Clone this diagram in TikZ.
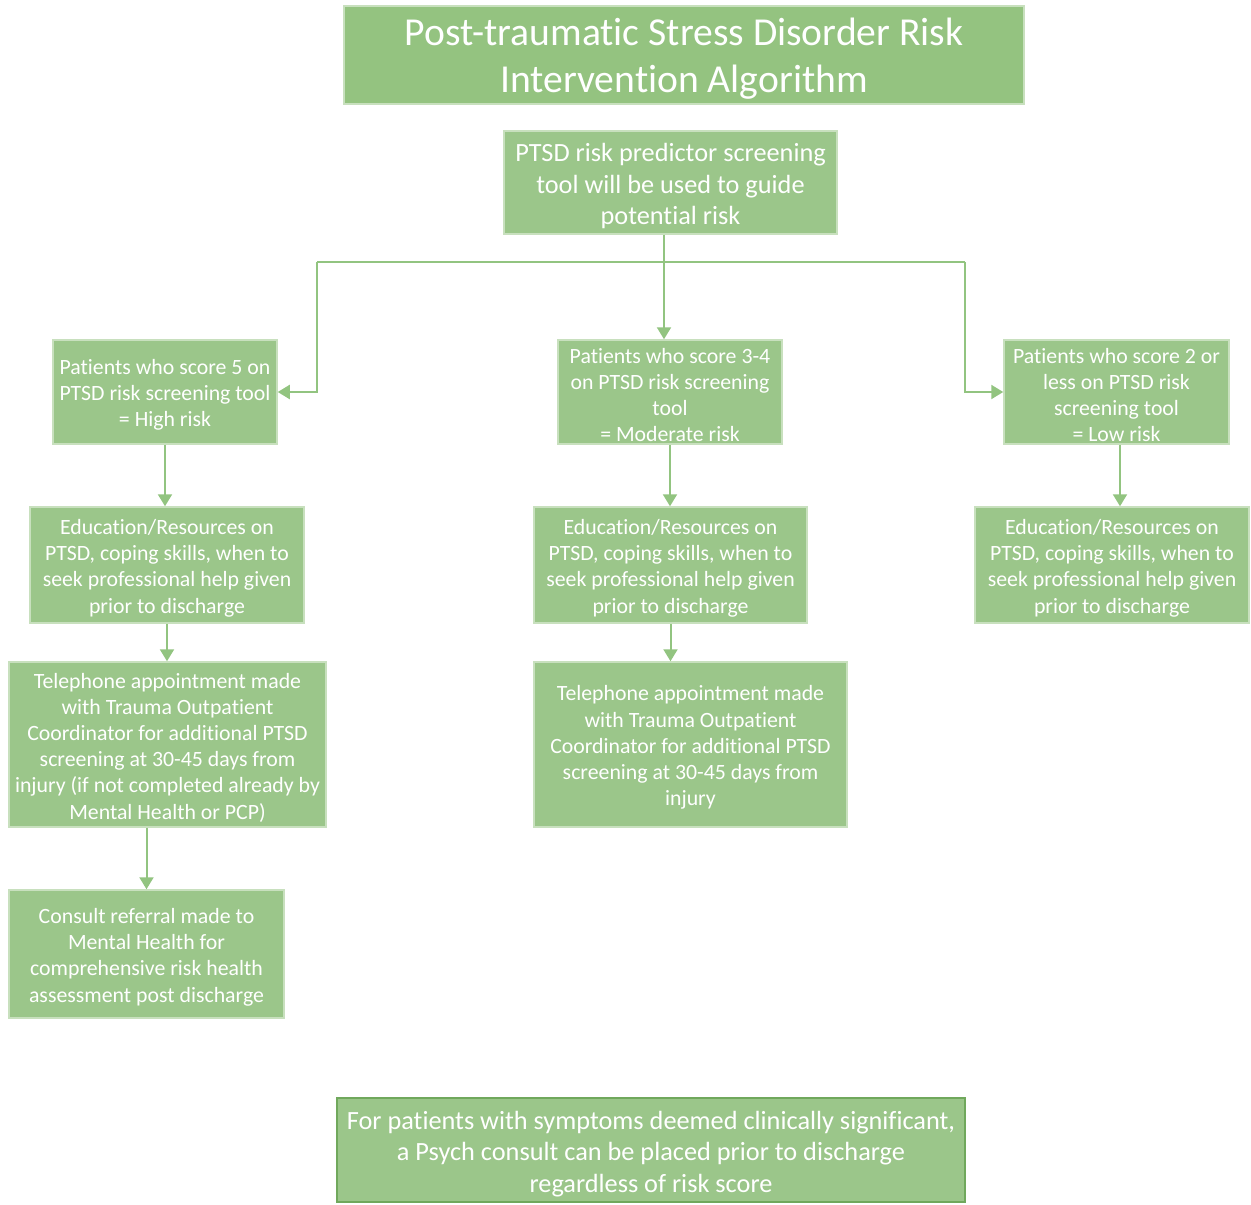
\documentclass[tikz,border=0pt]{standalone}
\usepackage{fontspec}
\setmainfont{Carlito}[Ligatures=NoCommon]
\usetikzlibrary{arrows.meta}
\definecolor{boxfill}{RGB}{155,198,138}
\definecolor{titlefill}{RGB}{148,195,128}
\definecolor{boxline}{RGB}{200,224,190}
\definecolor{darkline}{RGB}{112,168,92}
\definecolor{arrowc}{RGB}{146,196,128}
\begin{document}
\begin{tikzpicture}[x=1pt,y=-1pt,
  box/.style={draw=boxline,line width=1.5pt,fill=boxfill,inner sep=0pt},
  txt/.style={text=white,align=center,inner sep=0pt},
  small/.style={font=\fontsize{21.8}{26.2}\selectfont},
  mid/.style={font=\fontsize{26.3}{31.7}\selectfont},
  arr/.style={draw=arrowc,line width=2pt,-{Triangle[length=12pt,width=14pt]}},
  ln/.style={draw=arrowc,line width=2pt}]
\useasboundingbox (0,0) rectangle (1251,1205);
\fill[white] (0,0) rectangle (1251,1205);

% boxes
\node[box,fill=titlefill,minimum width=680pt,minimum height=98pt] (title) at (684,55) {};
\node[box,minimum width=333pt,minimum height=103pt] (top) at (670.5,182.5) {};
\node[box,minimum width=224pt,minimum height=104pt] (hi) at (165,392) {};
\node[box,minimum width=224pt,minimum height=104pt] (mod) at (670,392) {};
\node[box,minimum width=225pt,minimum height=104pt] (low) at (1116.5,392) {};
\node[box,minimum width=274pt,minimum height=116pt] (ed1) at (167,565) {};
\node[box,minimum width=273pt,minimum height=116pt] (ed2) at (670.5,565) {};
\node[box,minimum width=274pt,minimum height=116pt] (ed3) at (1112,565) {};
\node[box,minimum width=317pt,minimum height=165pt] (tel1) at (167.5,744.5) {};
\node[box,minimum width=313pt,minimum height=165pt] (tel2) at (690.5,744.5) {};
\node[box,minimum width=275pt,minimum height=128pt] (cons) at (146.5,954) {};
\node[box,draw=darkline,minimum width=628pt,minimum height=104pt] (note) at (651,1150) {};

% texts
\node[txt,font=\fontsize{39.6}{47}\selectfont] (title-t) at ([yshift=-4pt]title.center)
  {Post-traumatic Stress Disorder Risk\\Intervention Algorithm};
\node[txt,mid] (top-t) at ([yshift=-3.5pt]top.center)
  {PTSD risk predictor screening\\tool will be used to guide\\potential risk};
\node[txt,small] (hi-t) at ([yshift=-3pt]hi.center)
  {Patients who score 5 on\\PTSD risk screening tool\\= High risk};
\node[txt,small] (mod-t) at ([yshift=-3pt]mod.center)
  {Patients who score 3-4\\on PTSD risk screening\\tool\\= Moderate risk};
\node[txt,small] (low-t) at ([yshift=-3pt]low.center)
  {Patients who score 2 or\\less on PTSD risk\\screening tool\\= Low risk};
\node[txt,small] (ed1-t) at ([yshift=-3pt]ed1.center)
  {Education/Resources on\\PTSD, coping skills, when to\\seek professional help given\\prior to discharge};
\node[txt,small] (ed2-t) at ([yshift=-3pt]ed2.center)
  {Education/Resources on\\PTSD, coping skills, when to\\seek professional help given\\prior to discharge};
\node[txt,small] (ed3-t) at ([yshift=-3pt]ed3.center)
  {Education/Resources on\\PTSD, coping skills, when to\\seek professional help given\\prior to discharge};
\node[txt,small] (tel1-t) at ([yshift=-3pt]tel1.center)
  {Telephone appointment made\\with Trauma Outpatient\\Coordinator for additional PTSD\\screening at 30-45 days from\\injury (if not completed already by\\Mental Health or PCP)};
\node[txt,small] (tel2-t) at ([yshift=-3pt]tel2.center)
  {Telephone appointment made\\with Trauma Outpatient\\Coordinator for additional PTSD\\screening at 30-45 days from\\injury};
\node[txt,small] (cons-t) at ([yshift=-3pt]cons.center)
  {Consult referral made to\\Mental Health for\\comprehensive risk health\\assessment post discharge};
\node[txt,mid] (note-t) at ([yshift=-4pt]note.center)
  {For patients with symptoms deemed clinically significant,\\a Psych consult can be placed prior to discharge\\regardless of risk score};

% connectors
\coordinate (jl) at (317,262);
\coordinate (jr) at (965,262);
\coordinate (jm) at (664,262);
\draw[ln] (jl) -- (jr);
\draw[arr] (top.south -| jm) -- (jm |- mod.north);
\draw[arr] (jl) |- (hi.east);
\draw[arr] (jr) |- (low.west);

\draw[arr] (hi.south) -- (hi.south |- ed1.north);
\draw[arr] (mod.south) -- (mod.south |- ed2.north);
\draw[arr] ([xshift=3.5pt]low.south) -- ([xshift=3.5pt]low.south |- ed3.north);

\draw[arr] (ed1.south) -- (ed1.south |- tel1.north);
\draw[arr] (ed2.south) -- (ed2.south |- tel2.north);

\draw[arr] (tel1.south -| cons.north) -- (cons.north);
\end{tikzpicture}
\end{document}
